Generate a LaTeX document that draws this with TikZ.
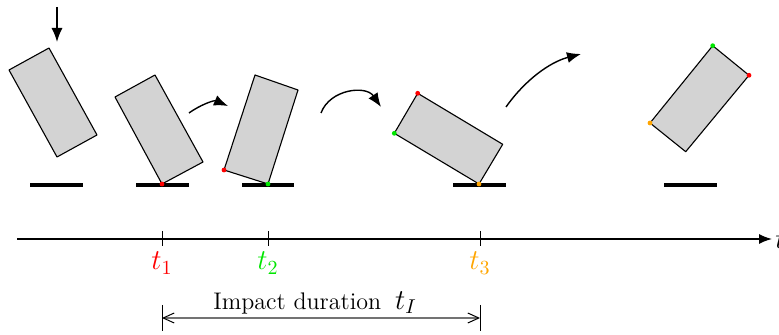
\documentclass[tikz,border=0pt]{standalone}
\usetikzlibrary{arrows.meta}
\definecolor{cgreen}{RGB}{0,230,0}
\definecolor{corange}{RGB}{255,165,0}
\definecolor{blockgray}{RGB}{211,211,211}
\begin{document}
\begin{tikzpicture}[x=0.5pt,y=-0.5pt,
  block/.style={draw=black, fill=blockgray, line width=0.55pt, line join=round},
  ground/.style={line width=1.6pt},
  dot/.style={circle, inner sep=0pt, minimum size=2.4pt},
  motion/.style={line width=0.7pt, -{Latex[length=7pt,width=5.5pt]}},
  axis/.style={line width=0.75pt, -{Latex[length=6.5pt,width=5pt]}},
  tick/.style={line width=0.5pt},
  tlabel/.style={anchor=base, inner sep=0pt, font=\Large},
  dimline/.style={draw=black!55, line width=1.1pt, {Straight Barb[length=5.5pt,width=5pt,black,line width=0.5pt]}-{Straight Barb[length=5.5pt,width=5pt,black,line width=0.5pt]}}
]
\useasboundingbox (0,0) rectangle (779,335);

% ground segments
\coordinate (g1a) at (30,185); \coordinate (g1b) at (83,185);
\coordinate (g2a) at (136,185); \coordinate (g2b) at (189,185);
\coordinate (g3a) at (242,185); \coordinate (g3b) at (294,185);
\coordinate (g4a) at (453,185); \coordinate (g4b) at (506,185);
\coordinate (g5a) at (664,185); \coordinate (g5b) at (717,185);
\draw[ground] (g1a) -- (g1b);
\draw[ground] (g2a) -- (g2b);
\draw[ground] (g3a) -- (g3b);
\draw[ground] (g4a) -- (g4b);
\draw[ground] (g5a) -- (g5b);

% block 1
\draw[block] (9,70) -- (49,48) -- (97,135) -- (57,157) -- cycle;
% block 2
\draw[block] (115,97) -- (155,75) -- (203,162) -- (162,184) -- cycle;
% block 3
\draw[block] (224,170) -- (255,75) -- (298,90) -- (268,184) -- cycle;
% block 4
\draw[block] (417.7,93.3) -- (502.7,144.3) -- (479,184) -- (394.3,133.3) -- cycle;
% block 5
\draw[block] (712.7,45.7) -- (749,75.3) -- (685.7,151.7) -- (650,123) -- cycle;

% contact dots
\node[dot, fill=red] (d2r) at (162,184) {};
\node[dot, fill=red] (d3r) at (224,170) {};
\node[dot, fill=cgreen] (d3g) at (268,184) {};
\node[dot, fill=red] (d4r) at (417.7,93.3) {};
\node[dot, fill=cgreen] (d4g) at (394.3,133.3) {};
\node[dot, fill=corange] (d4o) at (479,184) {};
\node[dot, fill=cgreen] (d5g) at (712.7,45.7) {};
\node[dot, fill=red] (d5r) at (749,75.3) {};
\node[dot, fill=corange] (d5o) at (650,123) {};

% motion arrows
\coordinate (m0a) at (57,7); \coordinate (m0b) at (57,42);
\draw[motion] (m0a) -- (m0b);
\coordinate (m1a) at (189,113); \coordinate (m1b) at (228,106);
\draw[motion] (m1a) .. controls (200,105) and (214,100) .. (m1b);
\coordinate (m2a) at (321,113); \coordinate (m2b) at (381,107);
\draw[motion] (m2a) .. controls (330,89) and (366,85) .. (m2b);
\coordinate (m3a) at (506,107); \coordinate (m3b) at (581,54);
\draw[motion] (m3a) .. controls (525,80) and (550,62) .. (m3b);

% time axis
\coordinate (ax0) at (17,239); \coordinate (ax1) at (772,239);
\draw[axis] (ax0) -- (ax1);
\node[anchor=west, inner sep=0pt, font=\Large] (tax) at (775,240) {$t$};

\draw[tick] (162,231) -- (162,246);
\draw[tick] (268,231) -- (268,246);
\draw[tick] (480,231) -- (480,246);
\node[tlabel, text=red] (t1) at (162,270) {$t_1$};
\node[tlabel, text=cgreen] (t2) at (268,270) {$t_2$};
\node[tlabel, text=corange] (t3) at (480,270) {$t_3$};

% impact duration
\coordinate (i0t) at (162,305); \coordinate (i0b) at (162,331);
\coordinate (i1t) at (480,305); \coordinate (i1b) at (480,331);
\draw[tick] (i0t) -- (i0b);
\draw[tick] (i1t) -- (i1b);
\coordinate (i0) at (162,318); \coordinate (i1) at (480,318);
\draw[dimline] (i0) -- (i1);
\node[anchor=base, inner sep=0pt] (dur) at (315,309) {\fontsize{12}{14}\selectfont Impact duration\hspace{7pt}{\Large$t_I$}};
\end{tikzpicture}
\end{document}
